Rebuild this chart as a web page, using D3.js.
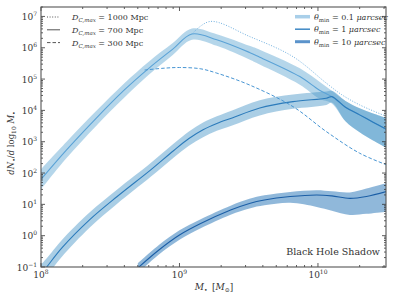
<!DOCTYPE html>
<html>
<head>
<meta charset="utf-8">
<script src="https://cdn.jsdelivr.net/npm/d3@7"></script>
<style>
  body { margin: 0; background: #fff; }
  svg text { font-family: "DejaVu Serif", "Liberation Serif", serif; fill: #333; }
</style>
</head>
<body>
<svg id="chart" width="399" height="299"></svg>
<script>
// theta_min = 0.1 muarcsec, D = 700 Mpc
const massA = [1.0e8, 1.53e8, 2.5e8, 4.0e8, 6.0e8, 8.9e8, 1.23e9, 1.86e9, 3.2e9, 3.8e9, 7.4e9, 1.02e10, 1.26e10, 1.58e10, 2.0e10, 2.5e10, 3.16e10]
const midA = [63, 550, 5.6e3, 4.5e4, 2.2e5, 8.9e5, 2.75e6, 1.8e6, 7.1e5, 5.0e5, 1.2e5, 4.5e4, 2.75e4, 1.26e4, 7.2e3, 4.2e3, 2.4e3]
const loA = [30, 300, 3.2e3, 2.6e4, 1.38e5, 5.8e5, 1.8e6, 1.15e6, 4.2e5, 2.9e5, 6.6e4, 2.4e4, 1.66e4, 4.5e3, 2.0e3, 1.1e3, 620]
const hiA = [132, 1.0e3, 9.5e3, 7.4e4, 3.6e5, 1.38e6, 4.1e6, 2.7e6, 1.15e6, 8.7e5, 2.2e5, 8.3e4, 4.2e4, 2.0e4, 1.17e4, 7.9e3, 5.6e3]

// theta_min = 1 muarcsec
const massB = [1.0e8, 1.1e8, 1.41e8, 2.24e8, 3.55e8, 6.2e8, 9.1e8, 1.17e9, 1.48e9, 1.86e9, 2.4e9, 3.8e9, 6.6e9, 1.15e10, 1.26e10, 1.58e10, 2.0e10, 2.5e10, 3.16e10]
const midB = [0.06, 0.1, 0.4, 3.2, 17.8, 126, 525, 1.26e3, 2.4e3, 3.8e3, 5.75e3, 1.2e4, 1.9e4, 2.45e4, 2.75e4, 1.26e4, 7.2e3, 4.2e3, 2.4e3]
const loB = [0.028, 0.05, 0.21, 1.8, 10.5, 76, 316, 740, 1.4e3, 2.24e3, 3.3e3, 6.9e3, 1.12e4, 1.5e4, 1.78e4, 4.5e3, 2.0e3, 1.1e3, 620]
const hiB = [0.12, 0.19, 0.72, 5.5, 30, 210, 870, 2.1e3, 4.1e3, 6.5e3, 1.0e4, 2.1e4, 3.2e4, 4.0e4, 4.2e4, 2.0e4, 1.17e4, 7.9e3, 5.6e3]

// theta_min = 10 muarcsec
const massC = [5.0e8, 7.1e8, 1.0e9, 1.41e9, 2.34e9, 3.2e9, 4.1e9, 6.3e9, 9.8e9, 1.26e10, 1.7e10, 2.24e10, 3.16e10]
const midC = [0.093, 0.35, 1.05, 2.4, 6.6, 10.7, 13.8, 17.8, 20, 18.6, 15.5, 17.8, 26]
const loC = [0.063, 0.25, 0.74, 1.7, 4.7, 7.4, 9.3, 11.2, 8.3, 6.3, 4.6, 5.0, 5.9]
const hiC = [0.13, 0.5, 1.48, 3.3, 9.1, 15, 19.5, 25, 28, 26, 24, 32, 48]

// D = 1000 Mpc (dotted) and D = 300 Mpc (dashed), theta_min = 0.1
const massDotted = [1.23e9, 1.66e9, 3.2e9, 6.6e9, 1.15e10, 1.48e10, 2.0e10, 3.16e10]
const valDotted = [2.75e6, 6.9e6, 2.3e6, 5.2e5, 7.4e4, 3.2e4, 1.5e4, 6.3e3]
const massDashed = [5.6e8, 7.9e8, 1.0e9, 1.41e9, 1.86e9, 3.2e9, 6.6e9, 1.15e10, 2.0e10, 3.16e10]
const valDashed = [1.95e5, 2.24e5, 2.34e5, 2.14e5, 1.55e5, 6.5e4, 1.32e4, 2.1e3, 430, 180]

const xMajor = [1e8, 1e9, 1e10]
const yMajor = [-1, 0, 1, 2, 3, 4, 5, 6, 7]

const svg = d3.select('#chart')
const margin = {left: 41, right: 13, top: 7, bottom: 32}
const W = 399, H = 299
const x = d3.scaleLog().domain([1e8, 3.1e10]).range([margin.left, W - margin.right])
const y = d3.scaleLog().domain([0.1, 2e7]).range([H - margin.bottom, margin.top])

svg.append('defs').append('clipPath').attr('id', 'clip')
    .append('rect')
    .attr('x', margin.left).attr('y', margin.top)
    .attr('width', W - margin.left - margin.right).attr('height', H - margin.top - margin.bottom)

const plot = svg.append('g').attr('clip-path', 'url(#clip)')

const curve = d3.curveCatmullRom.alpha(0.5)
const area = d3.area().curve(curve)
    .x(d => x(d[0])).y0(d => y(d[1])).y1(d => y(d[2]))
const line = d3.line().curve(curve)
    .x(d => x(d[0])).y(d => y(d[1]))

function series(mass, mid, lo, hi, fill, fillOp, stroke) {
    plot.append('path')
        .attr('d', area(mass.map((m, i) => [m, lo[i], hi[i]])))
        .attr('fill', fill).attr('fill-opacity', fillOp)
    return {mass, mid, stroke}
}
const sA = series(massA, midA, loA, hiA, '#6baed6', 0.5, '#5aa2d6')
const sB = series(massB, midB, loB, hiB, '#4292c6', 0.45, '#2c7bbb')
const sC = series(massC, midC, loC, hiC, '#2171b5', 0.5, '#1b5ea6')
;[sA, sB, sC].forEach(s => {
    plot.append('path')
        .attr('d', line(s.mass.map((m, i) => [m, s.mid[i]])))
        .attr('fill', 'none').attr('stroke', s.stroke).attr('stroke-width', 1.1)
})
plot.append('path')
    .attr('d', line(massDotted.map((m, i) => [m, valDotted[i]])))
    .attr('fill', 'none').attr('stroke', '#6fb0e0').attr('stroke-width', 1)
    .attr('stroke-dasharray', '1,1.6')
plot.append('path')
    .attr('d', line(massDashed.map((m, i) => [m, valDashed[i]])))
    .attr('fill', 'none').attr('stroke', '#4795d3').attr('stroke-width', 1)
    .attr('stroke-dasharray', '3.5,2')

// ticks (inward, all sides)
const x0 = margin.left, x1 = W - margin.right, y0 = H - margin.bottom, y1 = margin.top
const axes = svg.append('g').attr('stroke', '#333')
function minors(lo, hi) {
    let out = []
    for (let e = lo; e <= hi; e++) for (let k = 2; k <= 9; k++) out.push(k * Math.pow(10, e))
    return out
}
const xMinor = minors(8, 10).filter(v => v <= 3.1e10)
const yMinor = minors(-1, 7).filter(v => v <= 2e7)
xMajor.forEach(v => {
    axes.append('line').attr('x1', x(v)).attr('x2', x(v)).attr('y1', y0).attr('y2', y0 - 4)
    axes.append('line').attr('x1', x(v)).attr('x2', x(v)).attr('y1', y1).attr('y2', y1 + 4)
})
xMinor.forEach(v => {
    axes.append('line').attr('x1', x(v)).attr('x2', x(v)).attr('y1', y0).attr('y2', y0 - 2)
    axes.append('line').attr('x1', x(v)).attr('x2', x(v)).attr('y1', y1).attr('y2', y1 + 2)
})
yMajor.forEach(e => {
    const v = Math.pow(10, e)
    axes.append('line').attr('x1', x0).attr('x2', x0 + 4).attr('y1', y(v)).attr('y2', y(v))
    axes.append('line').attr('x1', x1).attr('x2', x1 - 4).attr('y1', y(v)).attr('y2', y(v))
})
yMinor.forEach(v => {
    axes.append('line').attr('x1', x0).attr('x2', x0 + 2).attr('y1', y(v)).attr('y2', y(v))
    axes.append('line').attr('x1', x1).attr('x2', x1 - 2).attr('y1', y(v)).attr('y2', y(v))
})
axes.selectAll('line').attr('stroke-width', 0.8)
svg.append('rect')
    .attr('x', x0).attr('y', y1).attr('width', x1 - x0).attr('height', y0 - y1)
    .attr('fill', 'none').attr('stroke', '#555').attr('stroke-width', 1.1)

// tick labels
function powLabel(g, e) {
    g.append('tspan').text('10')
    g.append('tspan').attr('dy', -4).attr('font-size', 6).text(e < 0 ? '\u2212' + (-e) : e)
}
xMajor.forEach(v => {
    const t = svg.append('text').attr('x', x(v)).attr('y', y0 + 11)
        .attr('text-anchor', 'middle').attr('font-size', 9)
    powLabel(t, Math.round(Math.log10(v)))
})
yMajor.forEach(e => {
    const t = svg.append('text').attr('x', x0 - 4).attr('y', y(Math.pow(10, e)) + 3.5)
        .attr('text-anchor', 'end').attr('font-size', 9)
    powLabel(t, e)
})

// axis titles
const xt = svg.append('text').attr('x', 214).attr('y', 290).attr('text-anchor', 'middle').attr('font-size', 9)
xt.append('tspan').attr('font-style', 'italic').text('M')
xt.append('tspan').attr('dy', 2).attr('font-size', 6).text('\u2022')
xt.append('tspan').attr('dy', -2).text('\u2002[')
xt.append('tspan').attr('font-style', 'italic').text('M')
xt.append('tspan').attr('dy', 2).attr('font-size', 6).text('\u2299')
xt.append('tspan').attr('dy', -2).text(']')

const yt = svg.append('text').attr('transform', 'translate(14,143) rotate(-90)')
    .attr('text-anchor', 'middle').attr('font-size', 8.5)
yt.append('tspan').attr('font-style', 'italic').text('dN')
yt.append('tspan').attr('dy', 2).attr('font-size', 6).text('\u2022')
yt.append('tspan').attr('dy', -2).text('/')
yt.append('tspan').attr('font-style', 'italic').text('d')
yt.append('tspan').text(' log')
yt.append('tspan').attr('dy', 2).attr('font-size', 6).text('10')
yt.append('tspan').attr('dy', -2).attr('font-style', 'italic').text(' M')
yt.append('tspan').attr('dy', 2).attr('font-size', 6).text('\u2022')

svg.append('text').attr('x', 380).attr('y', 255).attr('text-anchor', 'end')
    .attr('font-size', 9.5).text('Black Hole Shadow')

// legend: distances
const distLabels = ['1000', '700', '300']
const distDash = ['1,1.6', null, '3.5,2']
distLabels.forEach((lab, i) => {
    const ly = 17 + i * 12.8
    svg.append('line').attr('x1', 47).attr('x2', 60).attr('y1', ly).attr('y2', ly)
        .attr('stroke', '#555').attr('stroke-width', 1).attr('stroke-dasharray', distDash[i])
    const t = svg.append('text').attr('x', 72).attr('y', ly + 3).attr('font-size', 8)
    t.append('tspan').attr('font-style', 'italic').text('D')
    t.append('tspan').attr('dy', 2).attr('font-size', 5.5).attr('font-style', 'italic').text('C,max')
    t.append('tspan').attr('dy', -2).text(' = ' + lab + ' Mpc')
})

// legend: theta_min
const thetaLabels = ['0.1', '1', '10']
const thetaColor = ['#a9cfe9', '#3f88c5', '#5b93cb']
const thetaWidth = [3.5, 1.5, 3]
thetaLabels.forEach((lab, i) => {
    const ly = 16.7 + i * 12.5
    svg.append('line').attr('x1', 295).attr('x2', 310).attr('y1', ly).attr('y2', ly)
        .attr('stroke', thetaColor[i]).attr('stroke-width', thetaWidth[i])
    const t = svg.append('text').attr('x', 314).attr('y', ly + 3).attr('font-size', 8)
    t.append('tspan').attr('font-style', 'italic').text('\u03b8')
    t.append('tspan').attr('dy', 2).attr('font-size', 5.5).text('min')
    t.append('tspan').attr('dy', -2).text(' = ' + lab + ' ')
    t.append('tspan').attr('font-style', 'italic').text('\u03bcarcsec')
})
</script>
</body>
</html>
